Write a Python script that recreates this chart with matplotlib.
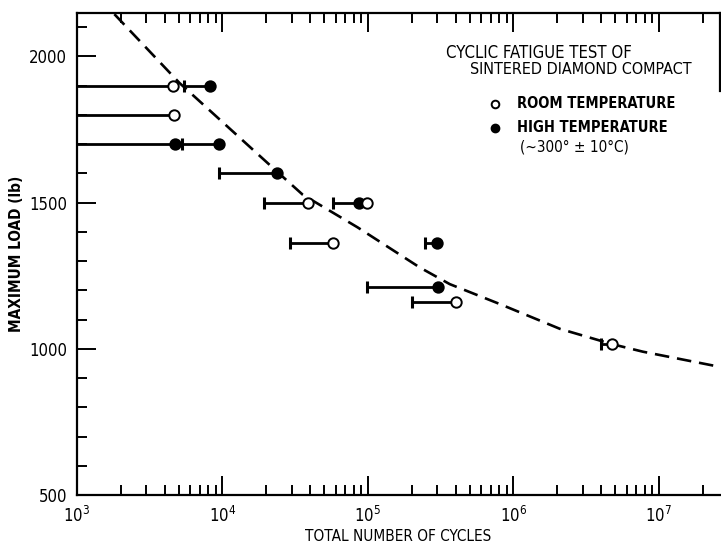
import numpy as np
import matplotlib
matplotlib.use("Agg")
from matplotlib import pyplot as plt
from matplotlib.ticker import FixedLocator, LogLocator, NullFormatter

plt.rcParams["font.family"] = ["DejaVu Sans"]
plt.rcParams["font.stretch"] = "condensed"
plt.rcParams["mathtext.fontset"] = "dejavusans"

# test results: load (lb), start of the run (None = off the axis), cycles at failure
load = [1900, 1900, 1800, 1700, 1700, 1600, 1500, 1500, 1500, 1360, 1360, 1210, 1160, 1015]
low = [None, 5460, None, None, 5280, 9440, 19200, 57400, 86700, 29200, 245000, 98400, 201000, 3.97e6]
cycles = [4600, 8150, 4650, 4680, 9400, 23770, 38600, 86700, 98400, 57400, 300000, 303000, 405000, 4.78e6]
temp = ["room", "high", "room", "high", "high", "high", "room", "high", "room", "room",
        "high", "high", "room", "room"]
capped = [False, True, False, False, True, True, True, True, False, True, True, True, True, True]

# fatigue curve
curve_cycles = [1807, 5058, 23440, 35560, 84920, 227000, 365000, 805000, 2.09e6, 4.75e6, 7.76e6, 2.63e7]
curve_load = [2144, 1909, 1608, 1527, 1415, 1278, 1221, 1153, 1068, 1016, 990, 938]

XMIN, XMAX = 1e3, 2.63e7
YMIN, YMAX = 500, 2148

fig = plt.figure(figsize=(7.21, 5.50), dpi=100)
ax = fig.add_axes([77 / 721, 55 / 550, 643 / 721, 482 / 550])

ax.plot(curve_cycles, curve_load, color="black", lw=1.9, dashes=[5.5, 3.0], zorder=2)

for y, a, b, c in zip(load, low, cycles, capped):
    start = XMIN if a is None else a
    ax.plot([start, b], [y, y], color="black", lw=2.0, solid_capstyle="butt", zorder=3)
    if c:
        ax.plot([start], [y], marker="|", markersize=8, markeredgewidth=2.2,
                color="black", zorder=3)

for y, b, t in zip(load, cycles, temp):
    face = "white" if t == "room" else "black"
    ax.plot([b], [y], marker="o", markersize=7.5, markerfacecolor=face,
            markeredgecolor="black", markeredgewidth=1.4, zorder=4)

ax.set_xscale("log")
ax.set_xlim(XMIN, XMAX)
ax.set_ylim(YMIN, YMAX)

ax.xaxis.set_major_locator(FixedLocator([1e3, 1e4, 1e5, 1e6, 1e7]))
ax.xaxis.set_minor_locator(LogLocator(base=10, subs=np.arange(2, 10)))
ax.xaxis.set_minor_formatter(NullFormatter())
ax.set_xticklabels([r"$\mathregular{10^{%d}}$" % k for k in range(3, 8)], fontsize=12)

ax.yaxis.set_major_locator(FixedLocator([500, 1000, 1500, 2000]))
ax.yaxis.set_minor_locator(FixedLocator(np.arange(600, 2200, 100)))
ax.set_yticklabels(["500", "1000", "1500", "2000"], fontsize=12)

ax.tick_params(which="both", direction="in", top=True, right=False, width=1.4)
ax.tick_params(which="major", length=14)
ax.tick_params(which="minor", length=7)
ax.tick_params(axis="x", pad=8)
ax.tick_params(axis="y", pad=7)

for s in ["left", "bottom", "top", "right"]:
    ax.spines[s].set_linewidth(1.6)
ax.spines["right"].set_bounds(1880, YMAX)

ax.set_xlabel("TOTAL NUMBER OF CYCLES", fontsize=11, labelpad=2)
ax.set_ylabel("MAXIMUM LOAD (lb)", fontsize=11, fontweight="bold", labelpad=4)

def note(x, y, s, size=12, **kw):
    ax.annotate(s, xy=(x, 550 - y), xycoords="figure pixels", fontsize=size,
                va="center", ha="left", **kw)

note(446, 53, "CYCLIC FATIGUE TEST OF")
note(470, 70, "SINTERED DIAMOND COMPACT", size=11.5)
note(517, 104, "ROOM TEMPERATURE", size=10.5, fontweight="bold")
note(517, 128, "HIGH TEMPERATURE", size=10.5, fontweight="bold")
note(520, 147, "(~300° ± 10°C)", size=11)

fig.add_artist(plt.Line2D([495 / 721], [1 - 104 / 550], marker="o", markersize=5.5,
                          markerfacecolor="white", markeredgecolor="black",
                          markeredgewidth=1.4, transform=fig.transFigure))
fig.add_artist(plt.Line2D([495 / 721], [1 - 128 / 550], marker="o", markersize=6,
                          markerfacecolor="black", markeredgecolor="black",
                          transform=fig.transFigure))

fig.savefig("out.png", dpi=100)
